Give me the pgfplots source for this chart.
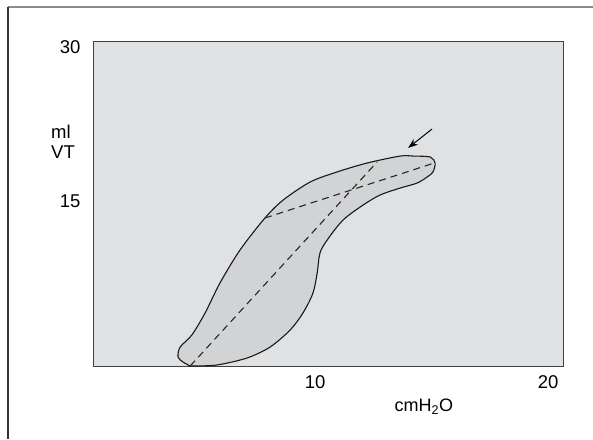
\documentclass[border=0pt]{standalone}
\usepackage{pgfplots}
\pgfplotsset{compat=1.18}
\usetikzlibrary{arrows.meta}
\usepackage{fontspec}
\setmainfont{Liberation Sans}

\definecolor{panel}{HTML}{E0E1E2}
\definecolor{loop}{HTML}{D2D3D5}
\definecolor{frameline}{HTML}{333333}

\begin{document}
\begin{tikzpicture}[x=1pt,y=1pt]
\path[use as bounding box] (0,0) rectangle (593,439);
\draw[line width=2pt, color=black!45] (8,432) -- (593,432);
\draw[line width=1.4pt, color=frameline] (8,432) -- (8,0);

\begin{axis}[
    at={(93pt,73pt)}, anchor=south west,
    scale only axis,
    width=470pt, height=324pt,
    xmin=0.47, xmax=20.64,
    ymin=-1.1, ymax=30.51,
    xtick={10,20}, ytick={15,30},
    major tick length=0pt,
    axis line style={color=black!75, line width=1pt},
    axis background/.style={fill=panel},
    /pgf/number format/assume math mode=true,
    tick label style={font=\fontsize{18.5}{21}\selectfont},
    xticklabel style={yshift=-6.5pt},
    yticklabel style={xshift=-9pt},
    clip=false,
]

% pressure-volume loop
\addplot[draw=black!90, line width=1.1pt, fill=loop, smooth, tension=0.5] coordinates {
  (4.64,-1.10) (4.33,-0.71) (4.12,-0.22) (4.21,0.75) (4.71,1.92)
  (5.28,4.07) (5.92,7.00) (6.78,10.22) (7.85,13.34) (8.63,15.09)
  (9.79,16.85) (10.94,17.83) (12.23,18.70) (13.65,19.38) (14.21,19.38)
  (14.94,19.29) (15.15,18.70) (15.06,17.83) (14.81,17.34) (14.38,16.75)
  (13.65,16.26) (12.79,15.58) (12.06,14.60) (11.20,13.14) (10.52,11.19)
  (10.21,9.92) (10.09,7.97) (9.91,6.02) (9.48,4.07) (8.93,2.41)
  (8.07,0.75) (7.08,-0.32) (5.79,-1.00) (4.76,-1.10) (4.64,-1.10)
};

% dashed compliance lines
\addplot[black!85, line width=1.1pt, dash pattern=on 7pt off 5pt] coordinates {(4.64,-1.10) (12.66,18.80)};
\addplot[black!85, line width=1.1pt, dash pattern=on 7pt off 5pt] coordinates {(7.85,13.34) (15.11,18.70)};

% arrow
\addplot[black, line width=1pt, -{Stealth[length=10pt,width=7pt]}] coordinates {(15.02,22.02) (13.99,20.17)};

\node[anchor=north west, inner sep=0pt, align=left, font=\fontsize{18.5}{20}\selectfont]
  at (axis description cs:-0.0894,0.744) {ml\\VT};
\node[anchor=base, inner sep=0pt, font=\fontsize{18}{21}\selectfont]
  at (axis description cs:0.704,-0.141) {cmH\textsubscript{2}O};
\end{axis}
\end{tikzpicture}
\end{document}
